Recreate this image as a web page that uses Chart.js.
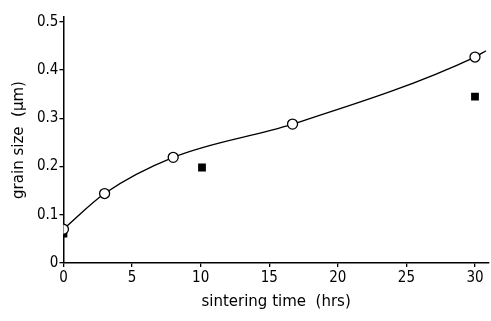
<!DOCTYPE html>
<html>
<head>
<meta charset="utf-8">
<script src="https://cdn.jsdelivr.net/npm/chart.js@4"></script>
<style>
  html, body { margin: 0; padding: 0; background: #fff; overflow: hidden; }
  #wrap { width: 491px; height: 321px; overflow: hidden; }
</style>
</head>
<body>
<div id="wrap"><canvas id="grainChart" width="495" height="321"></canvas></div>
<script>
// grain size vs sintering time
const openTimes = [0, 3, 8, 16.7, 30];
const openSizes = [0.07, 0.144, 0.219, 0.288, 0.427];

const filledTimes = [0, 10.1, 30];
const filledSizes = [0.061, 0.198, 0.345];

// fitted curve
const curveTimes = [0, 3, 8, 16.7, 30, 30.8];
const curveSizes = [0.07, 0.144, 0.219, 0.288, 0.427, 0.44];

const xTicks = [0, 5, 10, 15, 20, 25, 30];
const yTicks = [0, 0.1, 0.2, 0.3, 0.4, 0.5];

const toPoints = (xs, ys) => xs.map((x, i) => ({ x: x, y: ys[i] }));
const tickFont = { family: "'DejaVu Sans Condensed', 'DejaVu Sans', sans-serif", size: 15 };
const titleFont = { family: "'DejaVu Sans', sans-serif", size: 15 };

new Chart(document.getElementById('grainChart').getContext('2d'), {
    type: 'scatter',
    data: {
        datasets: [
            {
                label: 'fit',
                type: 'line',
                data: toPoints(curveTimes, curveSizes),
                borderColor: '#000',
                borderWidth: 1.4,
                pointRadius: 0,
                cubicInterpolationMode: 'monotone',
                fill: false,
                order: 3
            },
            {
                label: 'open',
                data: toPoints(openTimes, openSizes),
                pointStyle: 'circle',
                pointRadius: 5,
                backgroundColor: '#fff',
                borderColor: '#000',
                borderWidth: 1.3,
                order: 1
            },
            {
                label: 'filled',
                data: toPoints(filledTimes, filledSizes),
                pointStyle: 'rect',
                pointRadius: 5.5,
                backgroundColor: '#000',
                borderColor: '#000',
                borderWidth: 0,
                order: 2
            }
        ]
    },
    options: {
        responsive: false,
        animation: false,
        layout: { padding: { top: 17, right: 1, left: 6, bottom: 6 } },
        plugins: { legend: { display: false }, tooltip: { enabled: false } },
        scales: {
            x: {
                type: 'linear',
                min: 0,
                max: 31,
                afterBuildTicks: s => { s.ticks = xTicks.map(v => ({ value: v })); },
                grid: { drawOnChartArea: false, drawTicks: true, tickLength: 4, color: '#000', lineWidth: 1.3 },
                border: { display: true, color: '#000', width: 1.5 },
                ticks: { color: '#000', font: tickFont, padding: 2, maxRotation: 0 },
                title: { display: true, text: 'sintering time  (hrs)', color: '#000', font: titleFont, padding: { top: 4 } }
            },
            y: {
                type: 'linear',
                min: 0,
                max: 0.51,
                afterBuildTicks: s => { s.ticks = yTicks.map(v => ({ value: v })); },
                grid: { drawOnChartArea: false, drawTicks: true, tickLength: 4, color: '#000', lineWidth: 1.3 },
                border: { display: true, color: '#000', width: 1.5 },
                ticks: { color: '#000', font: tickFont, padding: 1, callback: v => String(+v.toFixed(1)) },
                title: { display: true, text: 'grain size  (μm)', color: '#000', font: titleFont, padding: { bottom: 8 } }
            }
        }
    }
});
</script>
</body>
</html>
